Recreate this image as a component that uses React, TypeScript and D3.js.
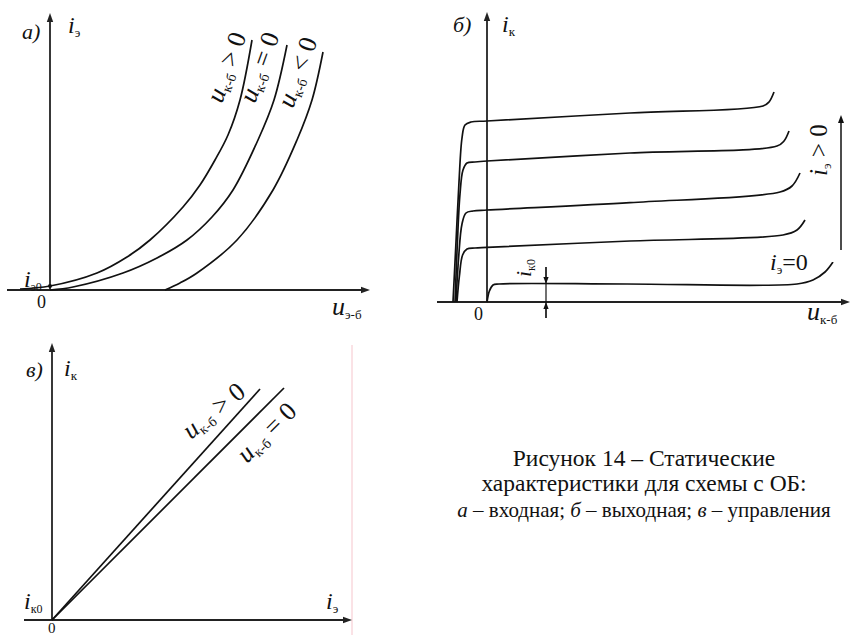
import React from "react";
import * as d3 from "d3";

type Pt = [number, number];

const FONT = "'Liberation Serif', 'Times New Roman', serif";
const INK = "#111";
const AXIS = "#222";

// ── Panel а: input characteristics i_э = f(u_э-б) ─────────────────────────
const inputForward: Pt[] = [
  [-1.5, 0.05], [0, 0.2], [2.35, 0.85], [3.85, 1.65], [5, 2.5], [6.65, 4.15],
  [7.5, 5.25], [8.25, 6.5], [8.9, 7.75], [9.5, 9.5], [10.1, 12.5],
];
const inputZero: Pt[] = [
  [0, 0], [1.15, 0.15], [3.65, 0.85], [5.35, 1.6], [6.85, 2.5], [8.1, 3.65],
  [9.15, 5.0], [10.4, 7.5], [11.2, 9.5], [11.85, 12.25],
];
const inputReverse: Pt[] = [
  [5.75, 0], [6.5, 0.35], [7.35, 0.85], [9.35, 2.5], [11.15, 5.0], [12.35, 7.5],
  [13.1, 9.5], [13.65, 11.9],
];
const inputSigns = [">", "=", "<"];
const iE0 = inputForward[1][1];

// ── Panel б: output characteristics i_к = f(u_к-б) ────────────────────────
const iK0 = 0.9;
const outputCurves: Pt[][] = [
  [[-1.7, 0], [-1.55, 3], [-1.4, 6], [-1.25, 8.2], [-1.1, 8.85], [-0.8, 9.0], [0, 9.05], [7.15, 9.45], [13.8, 9.8], [14.1, 10.0], [14.35, 10.5]],
  [[-1.6, 0], [-1.48, 3], [-1.35, 5.4], [-1.2, 6.6], [-1.0, 6.95], [-0.6, 7.0], [0, 7.05], [7.15, 7.45], [14.5, 7.8], [14.85, 8.05], [15.1, 8.55]],
  [[-1.55, 0], [-1.42, 2.2], [-1.25, 3.9], [-1.05, 4.45], [-0.7, 4.55], [0, 4.6], [7.15, 4.97], [14.65, 5.5], [15.25, 5.8], [15.65, 6.45]],
  [[-1.5, 0], [-1.38, 1.3], [-1.22, 2.35], [-1.0, 2.65], [-0.6, 2.7], [0, 2.73], [7.15, 3.05], [14.8, 3.35], [15.5, 3.6], [15.9, 4.1]],
  [[0, 0], [0.12, 0.55], [0.3, 0.85], [0.6, iK0], [7, iK0], [15.5, iK0], [16.3, 1.1], [16.9, 1.5], [17.3, 2.0]],
];
const iK0MarkU = 2.95;
const emitterArrow = { u: 17.7, from: 2.6, to: 9.35 };

// ── Panel в: control characteristics i_к = f(i_э) ─────────────────────────
const controlForward: Pt[] = [[0, 0], [10.4, 11.55]];
const controlZero: Pt[] = [[0, 0], [11.6, 11.6]];

const caption = [
  "Рисунок 14 – Статические",
  "характеристики для схемы с ОБ:",
];

// scales
const ax = d3.scaleLinear().domain([-2.15, 16]).range([7, 370]);
const ay = d3.scaleLinear().domain([0, 13.85]).range([290, 13]);
const bx = d3.scaleLinear().domain([-2.5, 18.15]).range([437, 850]);
const by = d3.scaleLinear().domain([0, 14.5]).range([302, 12]);
const vx = d3.scaleLinear().domain([-1.4, 15]).range([24, 352]);
const vy = d3.scaleLinear().domain([0, 13.85]).range([620, 343]);

function pathFor(
  xs: d3.ScaleLinear<number, number>,
  ys: d3.ScaleLinear<number, number>,
  curve: d3.CurveFactory = d3.curveCatmullRom.alpha(0.5)
) {
  return d3
    .line<Pt>()
    .x((d) => xs(d[0]))
    .y((d) => ys(d[1]))
    .curve(curve);
}

function Arrow({ x1, y1, x2, y2, len = 9, half = 3.2, color = AXIS, width = 1.8 }: any) {
  const a = Math.atan2(y2 - y1, x2 - x1);
  const c = Math.cos(a), s = Math.sin(a);
  const bx0 = x2 - len * c, by0 = y2 - len * s;
  const pts = [
    [x2, y2],
    [bx0 + half * s, by0 - half * c],
    [bx0 - half * s, by0 + half * c],
  ];
  return (
    <g>
      <line x1={x1} y1={y1} x2={x2 - len * 0.5 * c} y2={y2 - len * 0.5 * s} stroke={color} strokeWidth={width} />
      <polygon points={pts.map((p) => p.join(",")).join(" ")} fill={color} />
    </g>
  );
}

function Sym({ x, y, main, sub, tail, rotate = 0, size = 24, subSize = 13, tailSize }: any) {
  return (
    <text transform={`translate(${x},${y}) rotate(${rotate})`} fontFamily={FONT} fontSize={size} fill={INK}>
      <tspan fontStyle="italic">{main}</tspan>
      {sub && (
        <tspan fontSize={subSize} dy={4}>
          {sub}
        </tspan>
      )}
      {tail && (
        <tspan dy={sub ? -4 : 0} fontSize={tailSize || size}>
          {tail}
        </tspan>
      )}
    </text>
  );
}

export default function App() {
  const la = pathFor(ax, ay);
  const lb = pathFor(bx, by);
  const lv = pathFor(vx, vy, d3.curveLinear);
  const inputs = [inputForward, inputZero, inputReverse];
  const inputLabelPos = [
    [222, 104],
    [255, 104],
    [293, 109],
  ];
  const curveStyle = { fill: "none", stroke: INK, strokeWidth: 1.7 };

  return (
    <svg width={852} height={635} viewBox="0 0 852 635" style={{ display: "block", position: "absolute", left: 0, top: 0, background: "#fff" }}>
      <rect width={852} height={635} fill="#fff" />

      {/* ── а) input characteristics ── */}
      <Arrow x1={ax(-2.15)} y1={ay(0)} x2={ax(16)} y2={ay(0)} />
      <Arrow x1={ax(0)} y1={ay(0)} x2={ax(0)} y2={ay(13.85)} />
      {inputs.map((d, i) => (
        <path key={i} d={la(d) || ""} {...curveStyle} />
      ))}
      <circle cx={ax(0)} cy={ay(iE0)} r={2} fill={INK} />
      {inputSigns.map((s, i) => (
        <Sym key={i} x={inputLabelPos[i][0]} y={inputLabelPos[i][1]} rotate={-70} main="u" sub="к-б" tail={` ${s} 0`} size={26} subSize={14} />
      ))}
      <text x={22} y={39} fontFamily={FONT} fontSize={22} fontStyle="italic" fill={INK}>а)</text>
      <Sym x={68} y={33} main="i" sub="э" />
      <Sym x={24} y={287} main="i" sub="э0" subSize={12} />
      <text x={37} y={308} fontFamily={FONT} fontSize={18} fill={INK}>0</text>
      <Sym x={332} y={315} main="u" sub="э-б" size={26} />

      {/* ── б) output characteristics ── */}
      <Arrow x1={bx(-2.5)} y1={by(0)} x2={bx(18.15)} y2={by(0)} />
      <Arrow x1={bx(0)} y1={by(0)} x2={bx(0)} y2={by(14.5)} />
      {outputCurves.map((d, i) => (
        <path key={i} d={lb(d) || ""} {...curveStyle} />
      ))}
      {/* i_к0 dimension marker */}
      <line x1={bx(iK0MarkU)} y1={by(1.75)} x2={bx(iK0MarkU)} y2={by(-0.8)} stroke={INK} strokeWidth={1.2} />
      <Arrow x1={bx(iK0MarkU)} y1={by(1.75)} x2={bx(iK0MarkU)} y2={by(iK0)} len={7} half={2.6} color={INK} width={1.2} />
      <Arrow x1={bx(iK0MarkU)} y1={by(-0.8)} x2={bx(iK0MarkU)} y2={by(0)} len={7} half={2.6} color={INK} width={1.2} />
      <Sym x={531} y={277} rotate={-90} main="i" sub="к0" subSize={12} size={22} />
      {/* growing emitter current */}
      <Arrow x1={bx(emitterArrow.u)} y1={by(emitterArrow.from)} x2={bx(emitterArrow.u)} y2={by(emitterArrow.to)} len={8} half={3} color={INK} width={1.5} />
      <Sym x={827} y={176} rotate={-90} main="i" sub="э" tail=" > 0" size={25} />
      <Sym x={770} y={270} main="i" sub="э" tail="=0" size={24} />
      <text x={474} y={320} fontFamily={FONT} fontSize={18} fill={INK}>0</text>
      <text x={453} y={32} fontFamily={FONT} fontSize={22} fontStyle="italic" fill={INK}>б)</text>
      <Sym x={502} y={32} main="i" sub="к" />
      <Sym x={807} y={320} main="u" sub="к-б" size={26} />

      {/* ── в) control characteristics ── */}
      <line x1={352} y1={345} x2={352} y2={635} stroke="#f6c5cc" strokeWidth={1} />
      <Arrow x1={vx(-1.4)} y1={vy(0)} x2={vx(15)} y2={vy(0)} />
      <Arrow x1={vx(0)} y1={vy(0)} x2={vx(0)} y2={vy(13.85)} />
      <path d={lv(controlForward) || ""} {...curveStyle} />
      <path d={lv(controlZero) || ""} {...curveStyle} />
      <Sym x={191} y={440} rotate={-39} main="u" sub="к-б" tail=" > 0" size={26} subSize={14} />
      <Sym x={247} y={464} rotate={-45} main="u" sub="к-б" tail=" = 0" size={26} subSize={14} />
      <text x={26} y={377} fontFamily={FONT} fontSize={22} fontStyle="italic" fill={INK}>в)</text>
      <Sym x={64} y={376} main="i" sub="к" />
      <Sym x={24} y={609} main="i" sub="к0" subSize={12} />
      <Sym x={326} y={609} main="i" sub="э" />
      <text x={48} y={633} fontFamily={FONT} fontSize={15} fill={INK}>0</text>

      {/* ── caption ── */}
      <g fontFamily={FONT} fill={INK} textAnchor="middle">
        <text x={644} y={466} fontSize={23.5}>{caption[0]}</text>
        <text x={644} y={491} fontSize={23.5}>{caption[1]}</text>
        <text x={644} y={517} fontSize={21}>
          <tspan fontStyle="italic">а</tspan> – входная; <tspan fontStyle="italic">б</tspan> – выходная;{" "}
          <tspan fontStyle="italic">в</tspan> – управления
        </text>
      </g>
    </svg>
  );
}
